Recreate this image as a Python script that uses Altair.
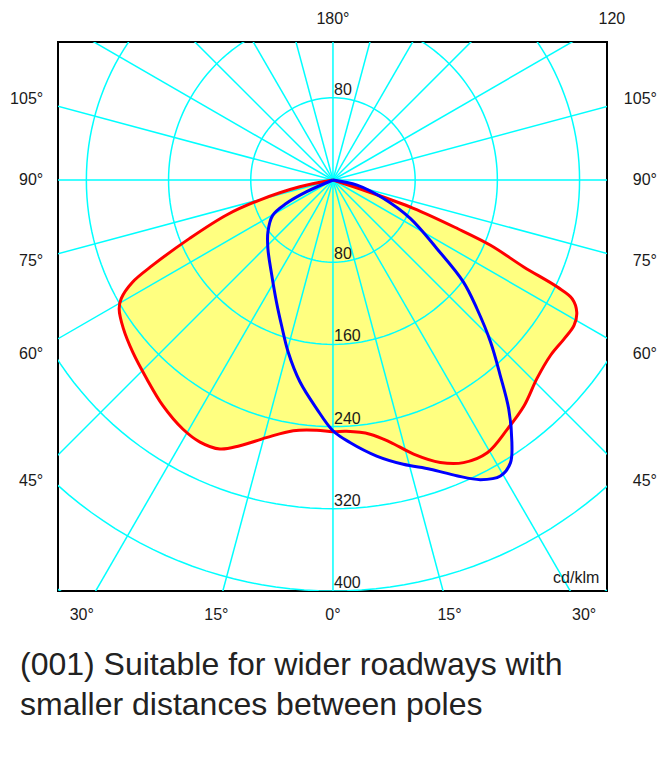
import altair as alt
import numpy as np
import pandas as pd

# ---------------- data ----------------
# C0-C180 plane (red). gamma in degrees, negative = left half; cd/klm
red_gamma = [-90, -78.5, -74.7, -71.8, -67.8, -64.7, -63.0, -60.8, -58.9, -54.7,
             -49.3, -43.2, -37.0, -31.1, -26.9, -22.8, -19.3, -14.5, -9.0, -3.7,
             0, 3.1, 8.3, 12.3, 16.4, 20.8, 24.8, 29.5, 35.0, 40.2, 45.8, 51.1,
             55.5, 58.9, 61.5, 63.6, 64.5, 65.5, 67.5, 68.7, 70.6, 71.7, 90]
red_cd = [0, 33, 74, 109, 151, 194, 219, 236, 243, 250,
          257, 265, 275, 283, 286, 284, 274, 259, 247, 244,
          245, 245, 250, 261, 278, 294, 303, 305, 296, 288, 277, 272,
          273, 274, 270, 260, 242, 204, 166, 130, 83, 31, 0]

# C90-C270 plane (blue)
blue_gamma = [-90, -66.0, -63.3, -59.6, -51.4, -43.5, -32.8, -24.8, -19.5, -14.6,
              -9.3, -4.1, 0, 3.7, 9.0, 13.9, 18.6, 22.7, 26.2, 29.5, 32.1, 34.3,
              37.5, 40.6, 44.2, 48.2, 52.0, 56.6, 63.6, 70.0, 78.1, 90]
blue_cd = [0, 28, 51, 68, 81, 92, 110, 131, 150, 173,
           199, 223, 244, 256, 272, 285, 297, 312, 325, 331, 325, 309,
           281, 250, 220, 188, 161, 121, 84, 52, 24, 0]

ring_values = [80, 160, 240, 320, 400, 480]
ring_labels_below = [80, 160, 240, 320, 400]
ring_labels_above = [80]
ray_step = 15
side_angles = [45, 60, 75, 90, 105]
bottom_angles = [-30, -15, 0, 15, 30]
top_angles = [180, 120]
top_texts = ["180°", "120"]
unit_text = "cd/klm"
caption = ["(001) Suitable for wider roadways with",
           "smaller distances between poles"]

# ---------------- layout constants ----------------
X_DOMAIN = [-267.6, 266.7]
Y_DOMAIN = [-400, 134.3]
W, H = 549, 549
GRID = "#00FFFF"
FONT = "Liberation Sans"
TXT = "#1a1a1a"

xs = alt.Scale(domain=X_DOMAIN, nice=False, zero=False)
ys = alt.Scale(domain=Y_DOMAIN, nice=False, zero=False)


def X(f):
    return alt.X(f, type="quantitative", scale=xs, axis=None)


def Y(f):
    return alt.Y(f, type="quantitative", scale=ys, axis=None)


# curves
rows = []
for plane, gs, cs in [("C0-C180", red_gamma, red_cd), ("C90-C270", blue_gamma, blue_cd)]:
    for g, c in zip(gs, cs):
        rows.append({"plane": plane, "gamma": g, "cd": c})
curves = pd.DataFrame(rows)

base = alt.Chart(curves).transform_calculate(
    px="datum.cd * sin(datum.gamma * PI / 180)",
    py="-datum.cd * cos(datum.gamma * PI / 180)",
)

fill_layer = base.mark_line(
    fill="#FFFF80", stroke="#FFFF80", strokeWidth=0, interpolate="catmull-rom", clip=True
).encode(x=X("px"), y=Y("py"), detail="plane:N", order="gamma:Q")

line_layer = base.mark_line(strokeWidth=3, interpolate="catmull-rom", clip=True).encode(
    x=X("px"), y=Y("py"),
    color=alt.Color("plane:N", scale=alt.Scale(domain=["C0-C180", "C90-C270"],
                                               range=["#FF0000", "#0000FF"]), legend=None),
    order="gamma:Q",
)

# grid circles
t = np.arange(0, 362, 2)
ring_df = pd.DataFrame([
    {"r": r, "t": ti, "px": r * np.sin(np.radians(ti)), "py": r * np.cos(np.radians(ti))}
    for r in ring_values for ti in t
])
ring_layer = alt.Chart(ring_df).mark_line(color=GRID, strokeWidth=1.5, clip=True).encode(
    x=X("px"), y=Y("py"), detail="r:N", order="t:Q"
)

# grid rays
angles = np.arange(0, 360, ray_step)
ray_df = pd.DataFrame({
    "a": angles,
    "x0": 0.0, "y0": 0.0,
    "x1": 900 * np.sin(np.radians(angles)),
    "y1": -900 * np.cos(np.radians(angles)),
})
ray_layer = alt.Chart(ray_df).mark_rule(color=GRID, strokeWidth=1.5, clip=True).encode(
    x=X("x0"), y=Y("y0"), x2="x1:Q", y2="y1:Q"
)

# ring value labels
rl_df = pd.DataFrame(
    [{"v": v, "py": -v, "txt": str(v)} for v in ring_labels_below]
    + [{"v": v, "py": v, "txt": str(v)} for v in ring_labels_above]
)
rl_df["px"] = 1.0
ring_text = alt.Chart(rl_df).mark_text(
    align="left", baseline="alphabetic", dy=-3, fontSize=16, font=FONT, color=TXT
).encode(x=X("px"), y=Y("py"), text="txt:N")

# angle labels on the sides
LABEL_COL = 293.0
side_df = pd.DataFrame({"g": side_angles})
side_df["py"] = -LABEL_COL / np.tan(np.radians(side_df["g"]))
side_df["txt"] = side_df["g"].astype(str) + "°"
left_df = side_df.assign(px=-282.0)
right_df = side_df.assign(px=315.3)
left_text = alt.Chart(left_df).mark_text(
    align="right", baseline="middle", fontSize=16, font=FONT, color=TXT
).encode(x=X("px"), y=Y("py"), text="txt:N")
right_text = alt.Chart(right_df).mark_text(
    align="right", baseline="middle", fontSize=16, font=FONT, color=TXT
).encode(x=X("px"), y=Y("py"), text="txt:N")

# bottom labels
BOTTOM_ROW = -423.4
bot_df = pd.DataFrame({"g": bottom_angles})
bot_df["px"] = -BOTTOM_ROW * np.tan(np.radians(bot_df["g"]))
bot_df["py"] = BOTTOM_ROW
bot_df["txt"] = bot_df["g"].abs().astype(str) + "°"
bot_text = alt.Chart(bot_df).mark_text(
    align="center", baseline="middle", fontSize=16, font=FONT, color=TXT
).encode(x=X("px"), y=Y("py"), text="txt:N")

# top labels
TOP_ROW = 156.7
top_df = pd.DataFrame({"g": top_angles, "txt": top_texts})
top_df["px"] = [TOP_ROW * np.tan(np.radians(180 - g)) for g in top_angles]
top_df["py"] = TOP_ROW
top_text = alt.Chart(top_df).mark_text(
    align="center", baseline="middle", fontSize=16, font=FONT, color=TXT
).encode(x=X("px"), y=Y("py"), text="txt:N")

# unit label
unit_df = pd.DataFrame({"px": [X_DOMAIN[1] - 7.5], "py": [Y_DOMAIN[0] + 8], "txt": [unit_text]})
unit_layer = alt.Chart(unit_df).mark_text(
    align="right", baseline="alphabetic", fontSize=16, font=FONT, color=TXT
).encode(x=X("px"), y=Y("py"), text="txt:N")

chart = alt.layer(
    fill_layer, ring_layer, ray_layer, line_layer,
    ring_text, left_text, right_text, bot_text, top_text, unit_layer,
).properties(
    width=W, height=H,
    autosize=alt.AutoSizeParams(type="none"),
    padding={"left": 50, "top": 34, "right": 52, "bottom": 170},
    title=alt.TitleParams(
        text=caption, orient="bottom", anchor="start", frame="group",
        offset=52, dx=-38, fontSize=32, lineHeight=40, font=FONT,
        fontWeight="normal", color="#222222", baseline="alphabetic",
    ),
).configure_view(stroke="black", strokeWidth=2)

chart.save("out.html", embed_options={"renderer": "svg", "actions": False})
